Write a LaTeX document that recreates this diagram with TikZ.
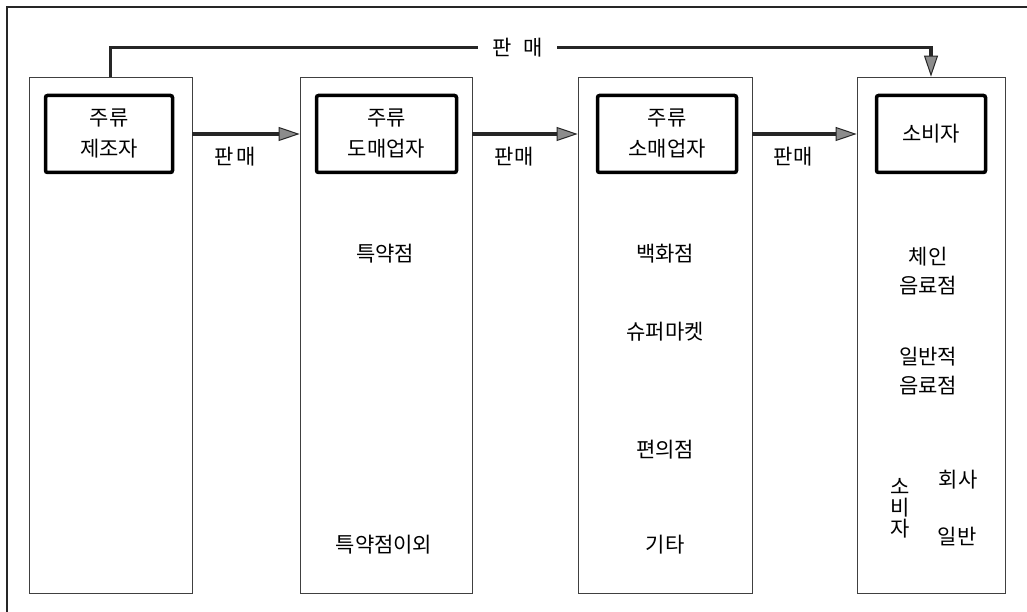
\documentclass[tikz,border=0pt]{standalone}
\usepackage{fontspec}
\setmainfont{Noto Sans CJK KR}
\usetikzlibrary{arrows.meta}
\begin{document}
\begin{tikzpicture}[x=1pt,y=-1pt,
  col/.style={draw=black!75, line width=0.8pt, minimum width=#1, minimum height=516pt, inner sep=0pt},
  actor/.style={draw=black, line width=3.5pt, rounded corners=2pt, minimum height=77pt, inner sep=0pt, align=center, font=\fontsize{21}{31}\selectfont},
  lbl/.style={font=\fontsize{21}{29}\selectfont, align=center, inner sep=1pt},
  arr/.style={line width=3.5pt, draw=black!85, -{Triangle[length=21pt,width=14pt,line width=1pt,fill=black!45]}},
  frame/.style={line width=1.4pt, draw=black!85}]
\useasboundingbox (0,0) rectangle (1027,612);
% partial outer frame
\coordinate (fa) at (7,612);
\coordinate (fb) at (7,7);
\coordinate (fc) at (1027,7);
\draw[frame] (fa) -- (fb) -- (fc);
% columns
\node[col=163pt] (c1) at (110.5,335) {};
\node[col=172pt] (c2) at (386,335) {};
\node[col=174pt] (c3) at (665,335) {};
\node[col=148pt] (c4) at (931,335) {};
% actor boxes
\node[actor, minimum width=127pt] (b1) at (109,134) {주류\\제조자};
\node[actor, minimum width=140pt] (b2) at (386.5,134) {주류\\도매업자};
\node[actor, minimum width=139pt] (b3) at (667,134) {주류\\소매업자};
\node[actor, minimum width=109pt] (b4) at (931,134) {소비자};
% arrows between columns
\draw[arr] (b1 -| c1.east) -- (b1 -| c2.west);
\draw[arr] (b2 -| c2.east) -- (b2 -| c3.west);
\draw[arr] (b3 -| c3.east) -- (b3 -| c4.west);
\node[lbl] (s1) at (235,157) {판\hspace{3pt}매};
\node[lbl] (s2) at (514,157) {판\hspace{1pt}매};
\node[lbl] (s3) at (793,157) {판\hspace{1pt}매};
% top arrow
\draw[arr] (c1.north) -- ++(0,-29) -| node[pos=0.248, lbl, fill=white, inner xsep=14pt, inner ysep=2pt] (st) {판\hspace{12pt}매} (c4.north);
% column 2 contents
\node[lbl] (t21) at (385,254) {특약점};
\node[lbl] (t22) at (384,545) {특약점이외};
% column 3 contents
\node[lbl] (t31) at (665,254) {백화점};
\node[lbl] (t32) at (665,332) {슈퍼마켓};
\node[lbl] (t33) at (665,450) {편의점};
\node[lbl] (t34) at (665,545) {기타};
% column 4 contents
\node[lbl] (t41) at (928,271) {체인\\음료점};
\node[lbl] (t42) at (928,371) {일반적\\음료점};
\node[lbl, font=\fontsize{21}{21}\selectfont] (t43) at (900,508) {소\\비\\자};
\node[lbl] (t44) at (958,480) {회사};
\node[lbl] (t45) at (957,537) {일반};
\end{tikzpicture}
\end{document}
